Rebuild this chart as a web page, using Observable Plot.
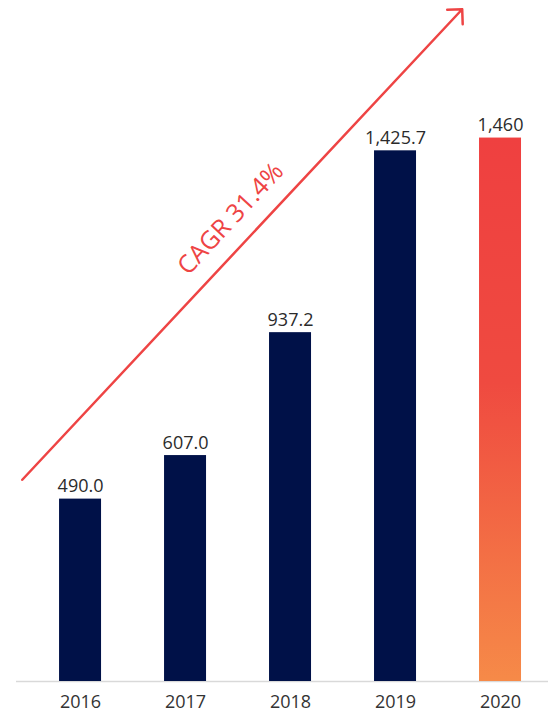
<!DOCTYPE html>
<html><head><meta charset="utf-8">
<script src="https://cdn.jsdelivr.net/npm/d3@7"></script>
<script src="https://cdn.jsdelivr.net/npm/@observablehq/plot@0.6"></script>
<style>body{margin:0;background:#fff} #chart{width:548px;height:714px}</style>
</head><body><div id="chart"></div>
<script>
const years = [2016, 2017, 2018, 2019, 2020];
const values = [490.0, 607.0, 937.2, 1425.7, 1460];
const valueLabels = ["490.0", "607.0", "937.2", "1,425.7", "1,460"];
const cagrLabel = "CAGR 31.4%";
const cagrArrow = [{x1: 2015.445, y1: 542, x2: 2019.635, y2: 1806}];
const cagrText = [{x: 2017.43, y: 1243, label: cagrLabel}];

const data = years.map((year, i) => ({year, value: values[i], label: valueLabels[i]}));
const actual = data.filter(d => d.year < 2020);
const latest = data.filter(d => d.year === 2020);

const navy = "#001148";
const red = "#ee4444";

const defs = () => {
  const d = d3.create("svg:defs");
  const g = d.append("linearGradient").attr("id", "grad2020")
    .attr("x1", 0).attr("y1", 0).attr("x2", 0).attr("y2", 1);
  g.append("stop").attr("offset", "0%").attr("stop-color", "#ef4040");
  g.append("stop").attr("offset", "45%").attr("stop-color", "#ef4a40");
  g.append("stop").attr("offset", "100%").attr("stop-color", "#f68a48");
  return d.node();
};

const chart = Plot.plot({
  width: 548, height: 714,
  marginLeft: 16, marginRight: 0, marginTop: 11, marginBottom: 33,
  x: {domain: [2015.39, 2020.457], axis: null},
  y: {domain: [0, 1800], axis: null},
  style: {fontFamily: "'Open Sans', sans-serif", background: "white", color: "#333", fontSize: "18px"},
  marks: [
    defs,
    Plot.ruleY([0], {stroke: "#d9d9d9", strokeWidth: 1.5}),
    Plot.rectY(actual, {x1: d => d.year - 0.5, x2: d => d.year + 0.5, y: "value", insetLeft: 31.5, insetRight: 31.5, fill: navy}),
    Plot.rectY(latest, {x1: d => d.year - 0.5, x2: d => d.year + 0.5, y: "value", insetLeft: 31.5, insetRight: 31.5, fill: "url(#grad2020)"}),
    Plot.text(data, {x: "year", y: "value", text: "label", lineAnchor: "bottom", dy: -7, fontSize: 18, fill: "#2b2b2b"}),
    Plot.axisX(years, {tickFormat: "d", tickSize: 0, tickPadding: 14, fontSize: 18, fill: "#333"}),
    Plot.arrow(cagrArrow, {x1: "x1", y1: "y1", x2: "x2", y2: "y2", stroke: red, strokeWidth: 2.5, headLength: 9, headAngle: 90}),
    Plot.text(cagrText, {x: "x", y: "y", text: "label", rotate: -47, fontSize: 25, fill: red})
  ]
});
document.getElementById("chart").appendChild(chart);
</script>
</body></html>
